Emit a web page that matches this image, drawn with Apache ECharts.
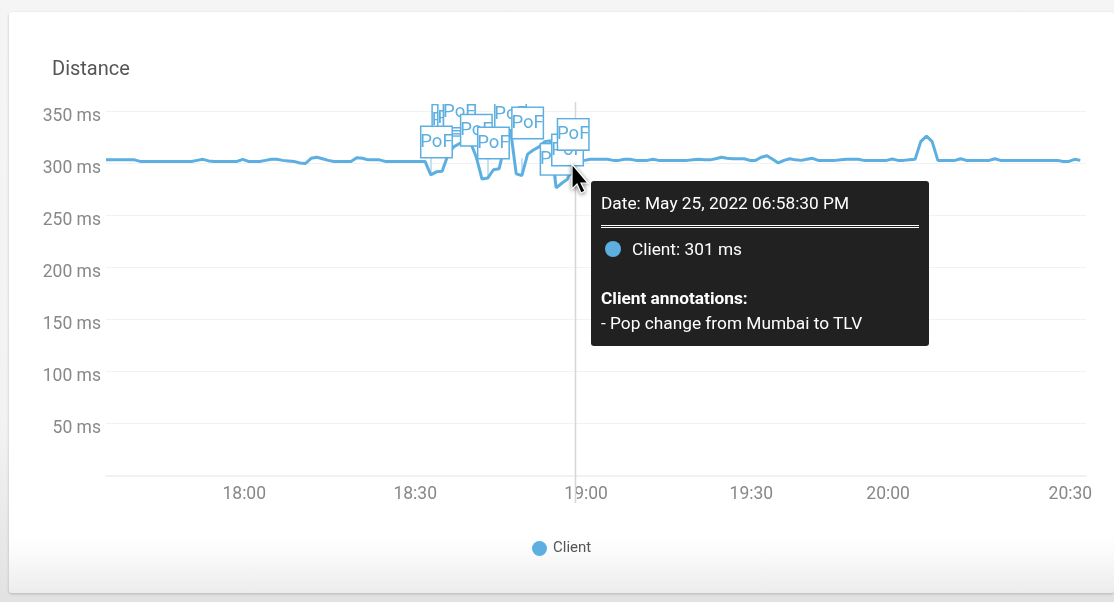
<!DOCTYPE html>
<html>
<head>
<meta charset="utf-8">
<script src="https://cdn.jsdelivr.net/npm/echarts@6/dist/echarts.min.js"></script>
<style>
html,body{margin:0;padding:0;width:1114px;height:602px;overflow:hidden;background:linear-gradient(#f5f5f5 0,#f3f3f3 70%,#e2e2e2 100%);font-family:Roboto,sans-serif}
#card{position:absolute;left:9px;top:12px;width:1105px;height:581px;background:linear-gradient(#fff 0,#fff 90%,#fbfbfb 93%,#ececec 100%);box-shadow:0 1px 3px rgba(0,0,0,.22);border-radius:3px}
#chart{position:absolute;left:0;top:0;width:1114px;height:602px}
</style>
</head>
<body>
<div id="card"></div>
<div id="chart"></div>
<script>
const titleText = 'Distance';
const seriesName = 'Client';
const tickLabels = ['18:00','18:30','19:00','19:30','20:00','20:30'];
const categories = [
'17:36','17:37','17:38','17:39','17:40','17:41','17:42','17:43','17:44','17:45',
'17:46','17:47','17:48','17:49','17:50','17:51','17:52','17:53','17:54','17:55',
'17:56','17:57','17:58','17:59','18:00','18:01','18:02','18:03','18:04','18:05',
'18:06','18:07','18:08','18:09','18:10','18:11','18:12','18:13','18:14','18:15',
'18:16','18:17','18:18','18:19','18:20','18:21','18:22','18:23','18:24','18:25',
'18:26','18:27','18:28','18:29','18:30','18:31','18:32','18:33','18:34','18:35',
'18:36','18:37','18:38','18:39','18:40','18:41','18:42','18:43','18:44','18:45',
'18:46','18:47','18:48','18:49','18:50','18:51','18:52','18:53','18:54','18:55',
'18:56','18:57','18:58','18:59','19:00','19:01','19:02','19:03','19:04','19:05',
'19:06','19:07','19:08','19:09','19:10','19:11','19:12','19:13','19:14','19:16',
'19:17','19:18','19:19','19:20','19:21','19:22','19:23','19:24','19:25','19:26',
'19:27','19:28','19:29','19:30','19:31','19:32','19:33','19:34','19:35','19:36',
'19:37','19:38','19:39','19:40','19:47','19:48','19:49','19:50','19:51','19:52',
'19:53','19:54','19:55','19:56','19:57','19:58','19:59','20:00','20:01','20:02',
'20:03','20:04','20:05','20:05:30','20:06','20:06:30','20:07','20:08','20:09','20:10',
'20:11','20:12','20:13','20:14','20:15','20:16','20:17','20:18','20:19','20:20',
'20:21','20:22','20:23','20:24','20:25','20:26','20:27','20:28','20:29','20:30',
'20:31','20:32','20:33'
];
const clientValues = [
303.5,303.5,303.5,303.5,303.5,303.5,302,302,302,302,
302,302,302,302,302,302,303,304,302.5,302,
302,302,302,302,304,302,302,302,303,304,
304,303,302.5,302,300.5,300,305,306,304.5,303,
302,302,302,302,305.5,305,303.5,303.5,303.5,302,
302,302,302,302,302,302,302,289,292,292.5,
308,316,319,322,320,306,285,286,294,295,
318,332,290,288.5,309,313,316,321,322,276.5,
281,285,301,302,303,304,304,304,304,303,
303,304,304,303,303,303,304,303,303,303,
303,303,303,303.5,304,303.5,303.5,304.5,306,305,
304.5,304.5,304.5,303,303,306,307.5,304,300.5,303,
304.5,303.5,303,304,305,303,303,303,303,303.5,
304,304,304,303,303,303,303,303,304.3,303,
303,303.5,304,321,326.5,321,303,303,303,303,
304.5,303,303,303,303,303,304.5,303,303,303,
303,303,303,303,303,303,303,303,302,302,
304,303,null
];
const annotationLabel = 'PoF';
const annotationTimes = ['18:36','18:37','18:38','18:38','18:41','18:47','18:34','18:41','18:44','18:55','18:57','18:50','18:58'];
const annotationLevels = [341.5,343.7,346.6,349.5,357,347.6,320.7,332,319.7,304,313,339,328];
const connectorTimes = ['18:33','18:36','18:43','18:49','18:55'];
const connectorLevels = [305,305,305,305,305];
const tooltipDate = 'May 25, 2022 06:58:30 PM';
const tooltipAnnotationTitle = 'Client annotations:';
const tooltipAnnotation = '- Pop change from Mumbai to TLV';
const hoverTime = '18:58';

const blue = '#5cafe0';
const hoverIndex = categories.indexOf(hoverTime);
const chart = echarts.init(document.getElementById('chart'), null, {renderer:'canvas'});
chart.setOption({
  animation:false,
  backgroundColor:'transparent',
  textStyle:{fontFamily:'Roboto'},
  title:{text:titleText,left:52,top:60,padding:0,textStyle:{fontFamily:'Roboto',fontSize:20,fontWeight:'normal',color:'#555'}},
  grid:{left:106,right:28,top:111.5,bottom:126.5,containLabel:false},
  legend:{left:532,top:541,padding:0,itemWidth:15,itemHeight:15,icon:'circle',itemGap:5,
    data:[seriesName],selectedMode:false,textStyle:{fontFamily:'Roboto',fontSize:15,color:'#555',padding:[3,0,0,1]}},
  tooltip:{show:true,trigger:'axis',alwaysShowContent:true,showContent:true,axisPointer:{type:'none'},
    transitionDuration:0,position:[591,181],backgroundColor:'#212121',borderWidth:0,padding:0,
    extraCssText:'box-shadow:none;border-radius:3px;width:338px;height:165px;box-sizing:border-box;',
    formatter:function(){
      return '<div style="position:relative;width:338px;height:165px;color:#fff;font:17.3px/20px Roboto;">'+
        '<div style="position:absolute;left:10px;top:12px;">Date: '+tooltipDate+'</div>'+
        '<div style="position:absolute;left:10px;top:44px;width:318px;height:1px;border-top:1px solid #fff;border-bottom:1px solid #fff;"></div>'+
        '<div style="position:absolute;left:14px;top:60px;width:16px;height:16px;border-radius:50%;background:'+blue+';"></div>'+
        '<div style="position:absolute;left:41px;top:58px;">'+seriesName+': '+clientValues[hoverIndex]+' ms</div>'+
        '<div style="position:absolute;left:10px;top:107px;font-weight:700;">'+tooltipAnnotationTitle+'</div>'+
        '<div style="position:absolute;left:10px;top:132px;">'+tooltipAnnotation+'</div></div>';
    }},
  xAxis:{type:'category',data:categories,boundaryGap:false,
    axisLine:{lineStyle:{color:'#f0f0f0',width:1.5}},axisTick:{show:false},splitLine:{show:false},
    axisLabel:{interval:function(i,v){return tickLabels.indexOf(v)>=0;},hideOverlap:false,fontFamily:'Roboto',fontSize:17.5,color:'#888',margin:10,padding:[0,0,0,3]}},
  yAxis:{type:'value',min:0,max:350,interval:50,
    axisLine:{show:false},axisTick:{show:false},
    splitLine:{lineStyle:{color:'#f2f2f2',width:1}},
    axisLabel:{showMinLabel:false,formatter:'{value} ms',fontFamily:'Roboto',fontSize:17.5,color:'#888',margin:5,verticalAlign:'top',lineHeight:10}},
  series:[{
    name:seriesName,type:'line',data:clientValues,showSymbol:false,symbol:'none',connectNulls:false,
    lineStyle:{color:blue,width:3},itemStyle:{color:blue},emphasis:{disabled:true},z:3,
    markLine:{silent:true,symbol:'none',z:2,animation:false,label:{show:false},
      lineStyle:{color:'#c4e0f2',width:2,type:'solid'},
      data:connectorTimes.map(function(t,i){
        const k=categories.indexOf(t);
        return [{coord:[t,clientValues[k]]},{coord:[t,connectorLevels[i]]}];
      })},
    markPoint:{silent:true,z:6,animation:false,symbol:'rect',symbolSize:1,
      itemStyle:{color:'transparent'},
      label:{show:true,position:'inside',color:blue,fontFamily:'Roboto',fontSize:18.5,align:'center',verticalAlign:'middle',
        width:30,height:30,lineHeight:30,backgroundColor:'#fff',borderColor:blue,borderWidth:1.5,formatter:annotationLabel},
      data:annotationTimes.map(function(t,i){return {name:annotationLabel,coord:[t,annotationLevels[i]],value:annotationLabel};})}
  }],
  graphic:[
    {type:'rect',z:50,silent:true,shape:{x:425,y:85,width:125,height:19},style:{fill:'#fff'}},
    {type:'line',z:1,silent:true,shape:{x1:575.5,y1:102,x2:575.5,y2:503},style:{stroke:'#d6d6d6',lineWidth:1.5}},
    {type:'polygon',z:70,silent:true,shape:{points:[[572,164],[572,189],[577,184],[581,193],[585,191],[581,183],[588,183]]},
      style:{fill:'#000',stroke:'#fff',lineWidth:1.2,shadowBlur:4,shadowColor:'rgba(0,0,0,.45)',shadowOffsetY:1}}
  ]
});
chart.dispatchAction({type:'showTip',seriesIndex:0,dataIndex:hoverIndex});
</script>
</body>
</html>
